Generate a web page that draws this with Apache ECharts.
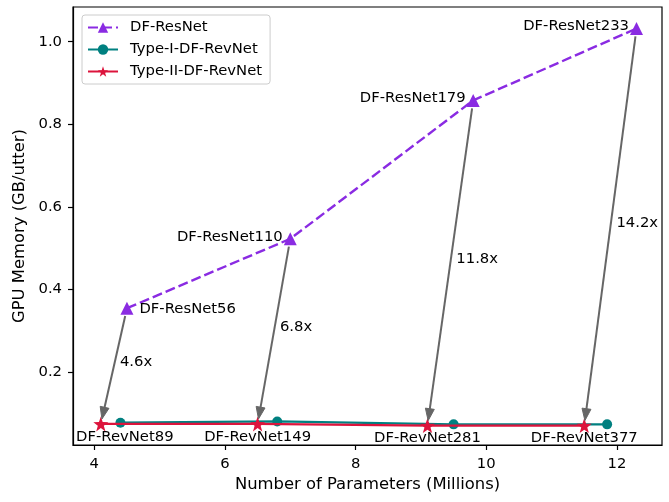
<!DOCTYPE html>
<html>
<head>
<meta charset="utf-8">
<script src="https://cdn.jsdelivr.net/npm/echarts@6/dist/echarts.min.js"></script>
<style>
  html, body { margin: 0; padding: 0; background: #fff; }
  #chart { width: 669px; height: 502px; }
</style>
</head>
<body>
<div id="chart"></div>
<script>
// values
const resX = [4.5, 7.0, 9.8, 12.3]
const resY = [0.355, 0.523, 0.858, 1.032]
const resNames = ['DF-ResNet56', 'DF-ResNet110', 'DF-ResNet179', 'DF-ResNet233']

const type1X = [4.4, 6.8, 9.5, 11.85]
const type1Y = [0.078, 0.081, 0.074, 0.074]

const type2X = [4.1, 6.5, 9.1, 11.5]
const type2Y = [0.075, 0.075, 0.071, 0.071]
const revNames = ['DF-RevNet89', 'DF-RevNet149', 'DF-RevNet281', 'DF-RevNet377']

const ratios = ['4.6x', '6.8x', '11.8x', '14.2x']

const xTicks = [4, 6, 8, 10, 12]
const yTicks = [0.2, 0.4, 0.6, 0.8, 1.0]

const FONT = 'DejaVu Sans'
const FS = 14.8
const TITLE_FS = 16.4
const ARROW = '#666666'

const zip = (xs, ys) => xs.map((x, i) => [x, ys[i]])

const resData = zip(resX, resY).map((p, i) => ({
  value: p,
  label: {
    show: true,
    formatter: resNames[i],
    position: i === 0 ? 'right' : 'left',
    distance: i === 0 ? 6 : 1,
    offset: i === 0 ? [0, 1] : [0, -2]
  }
}))

const revData = zip(type2X, type2Y).map((p, i) => ({
  value: p,
  label: {
    show: true,
    formatter: revNames[i],
    position: 'bottom',
    distance: 0,
    offset: [i === 0 ? 24 : 0, -2]
  }
}))

const arrowData = resX.map((x, i) => [x, resY[i], type2X[i], type2Y[i], i])

function renderArrow(params, api) {
  const a = api.coord([api.value(0), api.value(1)])
  const b = api.coord([api.value(2), api.value(3)])
  const dx = b[0] - a[0], dy = b[1] - a[1]
  const len = Math.sqrt(dx * dx + dy * dy)
  const ux = dx / len, uy = dy / len
  const s = [a[0] + ux * 8, a[1] + uy * 8]
  const tip = [b[0] - ux * 5, b[1] - uy * 5]
  const headL = 12, headW = 4.5
  const base = [tip[0] - ux * headL, tip[1] - uy * headL]
  const nx = -uy, ny = ux
  const mid = [(a[0] + b[0]) / 2, (a[1] + b[1]) / 2]
  return {
    type: 'group',
    children: [
      {
        type: 'line',
        shape: {x1: s[0], y1: s[1], x2: base[0] + ux * 2, y2: base[1] + uy * 2},
        style: {stroke: ARROW, lineWidth: 2}
      },
      {
        type: 'polygon',
        shape: {points: [tip, [base[0] + nx * headW, base[1] + ny * headW], [base[0] - nx * headW, base[1] - ny * headW]]},
        style: {fill: ARROW, stroke: ARROW, lineWidth: 1}
      },
      {
        type: 'text',
        x: mid[0] + 6,
        y: mid[1] - 4,
        style: {
          text: ratios[api.value(4)],
          font: FS + 'px ' + FONT,
          fill: '#000',
          align: 'left',
          verticalAlign: 'middle'
        }
      }
    ]
  }
}

const chart = echarts.init(document.getElementById('chart'), null, {renderer: 'canvas'})

const option = {
  animation: false,
  textStyle: {fontFamily: FONT, fontSize: FS, color: '#000'},
  grid: {
    left: 73, right: 7, top: 7, bottom: 57,
    show: true, borderColor: '#000', borderWidth: 1.2, backgroundColor: 'transparent'
  },
  legend: {
    left: 82, top: 15,
    orient: 'vertical',
    itemWidth: 30, itemHeight: 13, itemGap: 7,
    padding: [5, 8, 5, 5],
    borderColor: '#cccccc', borderWidth: 1, borderRadius: 3,
    backgroundColor: 'rgba(255,255,255,0.8)',
    textStyle: {fontFamily: FONT, fontSize: FS, color: '#000', padding: [0, 0, 0, 7]},
    data: ['DF-ResNet', 'Type-I-DF-RevNet', 'Type-II-DF-RevNet']
  },
  xAxis: {
    type: 'value',
    min: 3.674, max: 12.69,
    name: 'Number of Parameters (Millions)',
    nameLocation: 'middle',
    nameGap: 32,
    nameTextStyle: {fontFamily: FONT, fontSize: TITLE_FS, color: '#000'},
    splitLine: {show: false},
    axisLine: {show: true, onZero: false, lineStyle: {color: '#000', width: 1.2}},
    axisTick: {show: true, length: 5, customValues: xTicks, lineStyle: {color: '#000', width: 1.2}},
    axisLabel: {customValues: xTicks, margin: 12, fontFamily: FONT, fontSize: FS, color: '#000'}
  },
  yAxis: {
    type: 'value',
    min: 0.024, max: 1.084,
    name: 'GPU Memory (GB/utter)',
    nameLocation: 'middle',
    nameGap: 43,
    nameTextStyle: {fontFamily: FONT, fontSize: TITLE_FS, color: '#000'},
    splitLine: {show: false},
    axisLine: {show: true, onZero: false, lineStyle: {color: '#000', width: 1.2}},
    axisTick: {show: true, length: 5, customValues: yTicks, lineStyle: {color: '#000', width: 1.2}},
    axisLabel: {
      customValues: yTicks, margin: 11, fontFamily: FONT, fontSize: FS, color: '#000',
      formatter: v => v.toFixed(1)
    }
  },
  series: [
    {
      name: 'DF-ResNet',
      type: 'line',
      data: resData,
      symbol: 'triangle',
      symbolSize: 13,
      color: '#8a2be2',
      lineStyle: {color: '#8a2be2', width: 2.4, type: [10, 4]},
      itemStyle: {color: '#8a2be2'},
      label: {fontFamily: FONT, fontSize: FS, color: '#000'},
      z: 3
    },
    {
      name: 'Type-I-DF-RevNet',
      type: 'line',
      data: zip(type1X, type1Y),
      symbol: 'circle',
      symbolSize: 10,
      color: '#008080',
      lineStyle: {color: '#008080', width: 2.2},
      itemStyle: {color: '#008080'},
      z: 3
    },
    {
      name: 'Type-II-DF-RevNet',
      type: 'line',
      data: revData,
      symbol: 'path://M0,-10 L2.35,-3.24 L9.51,-3.09 L3.8,1.24 L5.88,8.09 L0,4 L-5.88,8.09 L-3.8,1.24 L-9.51,-3.09 L-2.35,-3.24 Z',
      symbolSize: 15,
      color: '#dc143c',
      lineStyle: {color: '#dc143c', width: 2.2},
      itemStyle: {color: '#dc143c'},
      label: {fontFamily: FONT, fontSize: FS, color: '#000'},
      z: 4
    },
    {
      name: 'arrows',
      type: 'custom',
      renderItem: renderArrow,
      data: arrowData,
      encode: {x: [0, 2], y: [1, 3]},
      silent: true,
      z: 5
    }
  ]
}

chart.setOption(option)
</script>
</body>
</html>
